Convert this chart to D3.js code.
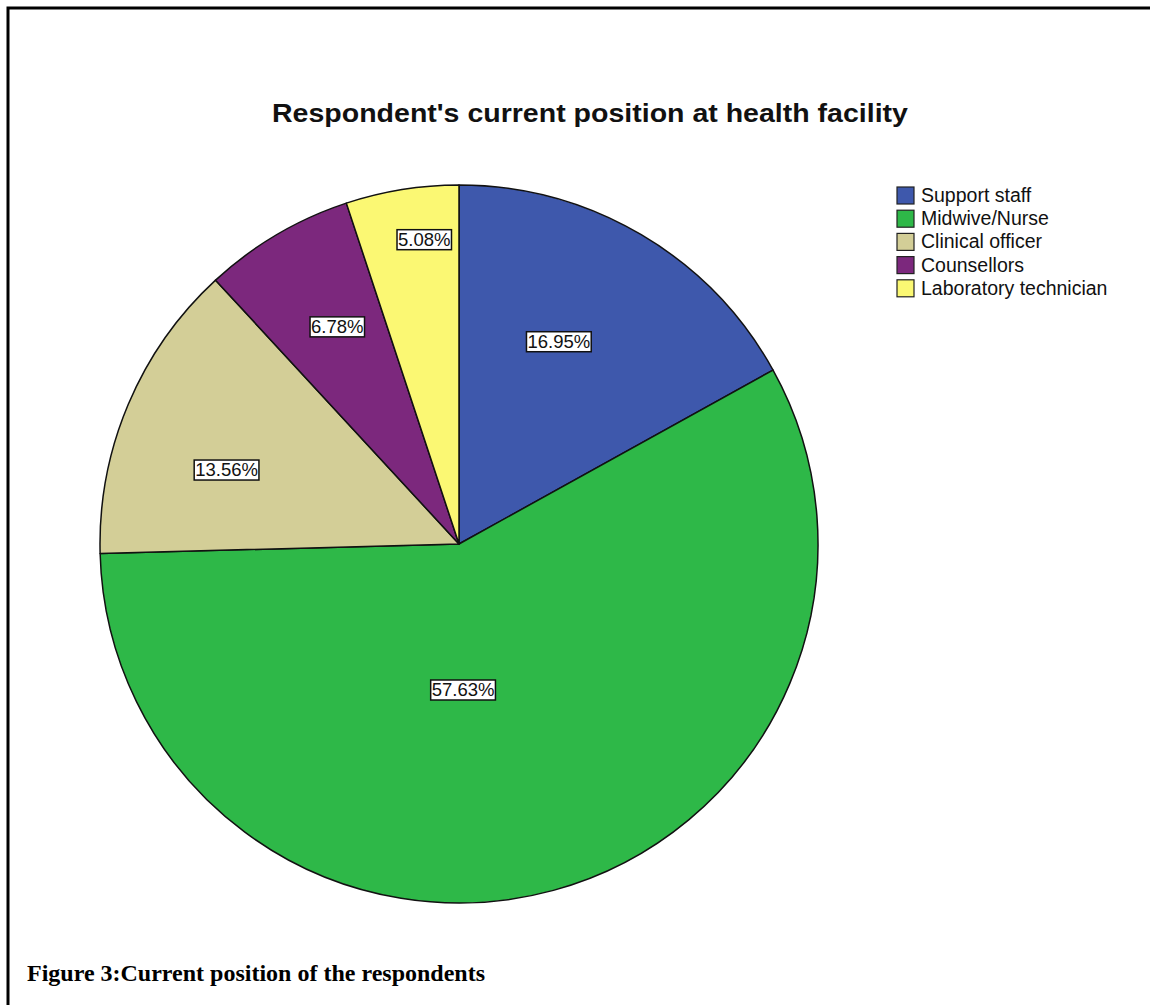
<!DOCTYPE html>
<html>
<head>
<meta charset="utf-8">
<script src="https://cdn.jsdelivr.net/npm/d3@7"></script>
<style>
  html, body { margin: 0; padding: 0; background: #fff; }
  svg { display: block; }
</style>
</head>
<body>
<svg id="chart" width="1150" height="1005"></svg>
<script>
// Respondent positions (percent of respondents)
const categories = ["Support staff", "Midwive/Nurse", "Clinical officer", "Counsellors", "Laboratory technician"];
const percentages = [16.95, 57.63, 13.56, 6.78, 5.08];
const sliceColors = ["#3E58AC", "#2EB848", "#D3CE97", "#7C287D", "#FBF873"];

// Label anchors in polar form: angle (deg, clockwise from 12 o'clock) and radius fraction
const labelAngles = [26.2, 178.4, 287.8, 330.8, 353.5];
const labelRadii = [0.63, 0.405, 0.68, 0.695, 0.855];

const svg = d3.select("#chart");
const W = 1150, H = 1005;

// Frame lines (top and left)
svg.append("path")
  .attr("d", `M8,${H} L8,8 L${W},8`)
  .attr("fill", "none")
  .attr("stroke", "#000")
  .attr("stroke-width", 3);

// Title
svg.append("text")
  .attr("x", 590)
  .attr("y", 122)
  .attr("text-anchor", "middle")
  .attr("font-family", "Liberation Sans, Arial, sans-serif")
  .attr("font-size", 25)
  .attr("font-weight", "bold")
  .attr("textLength", 636)
  .attr("lengthAdjust", "spacingAndGlyphs")
  .attr("fill", "#111")
  .text("Respondent's current position at health facility");

// Pie
const cx = 459, cy = 544, R = 359;
const color = d3.scaleOrdinal().domain(categories).range(sliceColors);
const pie = d3.pie().sort(null).value(d => d.value);
const data = categories.map((c, i) => ({ name: c, value: percentages[i], idx: i }));
const arcs = pie(data);
const arc = d3.arc().innerRadius(0).outerRadius(R);

const g = svg.append("g").attr("transform", `translate(${cx},${cy})`);
g.selectAll("path.slice")
  .data(arcs)
  .join("path")
  .attr("class", "slice")
  .attr("d", arc)
  .attr("fill", d => color(d.data.name))
  .attr("stroke", "#111")
  .attr("stroke-width", 1.5)
  .attr("stroke-linejoin", "round");

// Value labels in boxed tags
const fmt = v => v.toFixed(2) + "%";
const labels = g.selectAll("g.lbl")
  .data(arcs)
  .join("g")
  .attr("class", "lbl")
  .attr("transform", d => {
    const a = labelAngles[d.data.idx] * Math.PI / 180;
    const r = labelRadii[d.data.idx] * R;
    return `translate(${r * Math.sin(a)},${-r * Math.cos(a)})`;
  });

labels.append("text")
  .attr("text-anchor", "middle")
  .attr("dy", "0.36em")
  .attr("font-family", "Liberation Sans, Arial, sans-serif")
  .attr("font-size", 18.5)
  .attr("fill", "#111")
  .text(d => fmt(d.data.value));

labels.each(function() {
  const gg = d3.select(this);
  const bb = gg.select("text").node().getBBox();
  gg.insert("rect", "text")
    .attr("x", bb.x - 1)
    .attr("y", bb.y + 1)
    .attr("width", bb.width + 2)
    .attr("height", bb.height - 1)
    .attr("fill", "#fff")
    .attr("stroke", "#111")
    .attr("stroke-width", 1.5);
});

// Legend
const legend = svg.append("g").attr("transform", "translate(897,187)");
const rowH = 23.2;
const items = legend.selectAll("g.item")
  .data(categories)
  .join("g")
  .attr("class", "item")
  .attr("transform", (d, i) => `translate(0,${i * rowH})`);
items.append("rect")
  .attr("x", 0).attr("y", 0)
  .attr("width", 17).attr("height", 17)
  .attr("fill", d => color(d))
  .attr("stroke", "#222")
  .attr("stroke-width", 1.2);
items.append("text")
  .attr("x", 24)
  .attr("y", 15)
  .attr("font-family", "Liberation Sans, Arial, sans-serif")
  .attr("font-size", 19.5)
  .attr("fill", "#111")
  .text(d => d);

// Figure caption
svg.append("text")
  .attr("x", 27)
  .attr("y", 981)
  .attr("font-family", "Liberation Serif, Times New Roman, serif")
  .attr("font-size", 24)
  .attr("font-weight", "bold")
  .attr("fill", "#000")
  .text("Figure 3:Current position of the respondents");
</script>
</body>
</html>
